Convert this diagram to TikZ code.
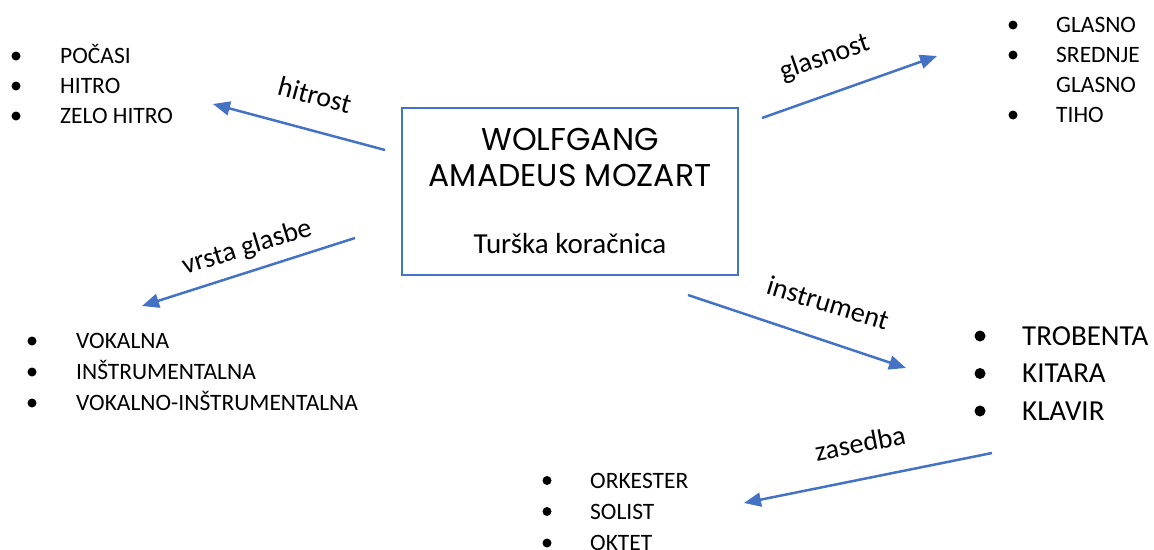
\documentclass[tikz,border=0pt]{standalone}
\usepackage{fontspec}
\setmainfont{Carlito}
\newfontfamily\titlefont{Poppins}
\usetikzlibrary{arrows.meta}
\definecolor{wordblue}{RGB}{68,114,196}

\begin{document}
\begin{tikzpicture}[x=1pt,y=-1pt,
  item/.style={anchor=west,inner sep=0pt,text height=15pt,text depth=0pt,font=\fontsize{23.5}{26}\selectfont},
  bigitem/.style={anchor=west,inner sep=0pt,text height=18.5pt,text depth=0pt,font=\fontsize{29}{32}\selectfont},
  tag/.style={inner sep=0pt,font=\fontsize{28}{30}\selectfont},
  link/.style={wordblue,line width=2.5pt,-{Triangle[length=17pt,width=14pt]}}]
  \useasboundingbox (0,0) rectangle (1154,549);

  % central box
  \node[draw=wordblue,line width=1.2pt,minimum width=336pt,minimum height=167pt,inner sep=0pt] (mozart) at (570,191.5) {};
  \node[inner sep=0pt,text height=22pt,text depth=0pt,font=\titlefont\fontsize{31.5}{34}\selectfont] (first) at (570,139) {WOLFGANG};
  \node[inner sep=0pt,text height=22pt,text depth=0pt,font=\titlefont\fontsize{31.5}{34}\selectfont] (last) at (570,175.5) {AMADEUS MOZART};
  \node[inner sep=0pt,text height=18.5pt,text depth=0pt,font=\fontsize{29}{32}\selectfont] (piece) at (570,244) {Turška koračnica};

  % lists
  \foreach \t/\y [count=\i] in {POČASI/56,HITRO/86,ZELO HITRO/116}{
    \node[item] (speed\i) at (60,\y) {\t};
    \fill ([xshift=-44pt]speed\i.west) circle (4.5pt);
  }
  \node[item] (loud1) at (1056,25) {GLASNO};
  \node[item] (loud2) at (1056,55) {SREDNJE};
  \node[item] (loud3) at (1056,85) {GLASNO};
  \node[item] (loud4) at (1056,115) {TIHO};
  \foreach \n in {loud1,loud2,loud4}
    \fill ([xshift=-43pt]\n.west) circle (4.5pt);
  \foreach \t/\y [count=\i] in {VOKALNA/341,INŠTRUMENTALNA/372,VOKALNO-INŠTRUMENTALNA/403}{
    \node[item] (kind\i) at (76,\y) {\t};
    \fill ([xshift=-44pt]kind\i.west) circle (4.5pt);
  }
  \foreach \t/\y [count=\i] in {TROBENTA/336,KITARA/373.5,KLAVIR/411}{
    \node[bigitem] (inst\i) at (1022,\y) {\t};
    \fill ([xshift=-42pt]inst\i.west) circle (5.5pt);
  }
  \foreach \t/\y [count=\i] in {ORKESTER/480.5,SOLIST/511.5,OKTET/543}{
    \node[item] (band\i) at (590,\y) {\t};
    \fill ([xshift=-43pt]band\i.west) circle (4.5pt);
  }

  % arrow ends
  \coordinate (speedtail) at (385,150);
  \coordinate (speedtip) at (213,104);
  \coordinate (loudtail) at (762,118);
  \coordinate (loudtip) at (937,56);
  \coordinate (kindtail) at (355,238);
  \coordinate (kindtip) at (142,306);
  \coordinate (insttail) at (688,295);
  \coordinate (insttip) at (906,368);
  \coordinate (bandtail) at (992,453);
  \coordinate (bandtip) at (744,503);

  \draw[link] (speedtail) -- (speedtip);
  \draw[link] (loudtail) -- (loudtip);
  \draw[link] (kindtail) -- (kindtip);
  \draw[link] (insttail) -- (insttip);
  \draw[link] (bandtail) -- (bandtip);

  \node[tag,rotate=-15] (speedlbl) at (315,95) {hitrost};
  \node[tag,rotate=19] (loudlbl) at (825,58) {glasnost};
  \node[tag,rotate=17] (kindlbl) at (247,248) {vrsta glasbe};
  \node[tag,rotate=-17] (instlbl) at (828,303) {instrument};
  \node[tag,rotate=11] (bandlbl) at (860,443) {zasedba};
\end{tikzpicture}
\end{document}
